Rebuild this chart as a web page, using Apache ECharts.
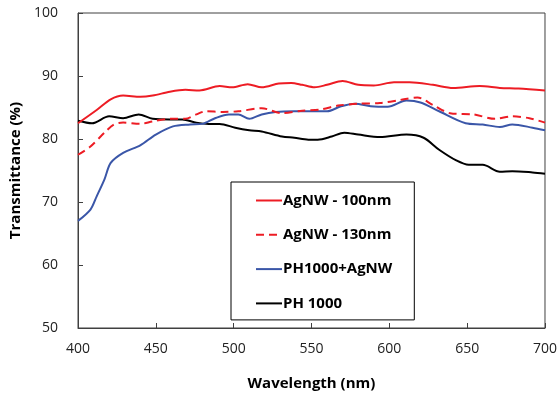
<!DOCTYPE html>
<html><head><meta charset="utf-8">
<script src="https://cdn.jsdelivr.net/npm/echarts@6/dist/echarts.min.js"></script>
<style>html,body{margin:0;padding:0;background:#fff}#c{width:560px;height:396px}</style>
</head><body><div id="c"></div>
<script>
var seriesNames = ["AgNW - 100nm", "AgNW - 130nm", "PH1000+AgNW", "PH 1000"];
var xTicks = [400, 450, 500, 550, 600, 650, 700];
var yTicks = [50, 60, 70, 80, 90, 100];

var agnw100 = [[400,82.5],[412,84.6],[421,86.3],[429,86.9],[440,86.7],[448,86.9],[459,87.5],[469,87.8],[478,87.7],[491,88.4],[499,88.2],[509,88.7],[518,88.2],[529,88.8],[537,88.9],[544,88.6],[552,88.2],[560,88.6],[570,89.2],[580,88.6],[590,88.5],[603,89.0],[613,89.0],[628,88.6],[641,88.1],[658,88.4],[671,88.1],[683,88.0],[700,87.7]];
var agnw130 = [[400,77.5],[408,78.8],[417,81.0],[423,82.3],[429,82.6],[440,82.4],[448,82.8],[459,83.2],[469,83.2],[476,83.9],[482,84.4],[493,84.3],[503,84.4],[518,84.9],[531,84.1],[544,84.5],[556,84.7],[567,85.3],[580,85.6],[594,85.7],[607,86.2],[618,86.6],[628,85.4],[639,84.1],[654,83.9],[668,83.2],[679,83.6],[690,83.3],[700,82.6]];
var ph1000agnw = [[400,67.0],[408,68.8],[412,70.9],[417,73.6],[421,76.2],[429,77.8],[440,79.0],[450,80.7],[461,82.0],[472,82.3],[480,82.4],[488,83.3],[497,83.9],[503,83.9],[510,83.2],[518,83.9],[527,84.3],[539,84.4],[548,84.4],[560,84.4],[569,85.2],[578,85.6],[588,85.2],[599,85.1],[611,86.1],[620,85.8],[632,84.4],[649,82.5],[660,82.3],[671,81.9],[679,82.3],[692,81.8],[700,81.4]];
var ph1000 = [[400,82.9],[409,82.5],[420,83.6],[429,83.3],[439,83.9],[448,83.2],[459,83.1],[467,83.1],[476,82.6],[484,82.4],[491,82.4],[501,81.8],[510,81.4],[518,81.2],[531,80.4],[539,80.2],[548,79.9],[554,79.9],[563,80.4],[571,81.0],[580,80.7],[594,80.3],[611,80.7],[622,80.2],[632,78.3],[643,76.6],[651,75.9],[660,75.9],[671,74.8],[679,74.9],[692,74.7],[700,74.5]];

var colors = ["#ED1C24", "#ED1C24", "#3A56A8", "#000000"];
var dataSets = [agnw100, agnw130, ph1000agnw, ph1000];
var types = ["solid", "dashed", "solid", "solid"];

var font = "'Open Sans', sans-serif";
var chart = echarts.init(document.getElementById('c'), null, {renderer: 'canvas'});
chart.setOption({
  animation: false,
  grid: {left: 74, top: 13, right: 13, bottom: 67, show: true, borderColor: '#404040', borderWidth: 1},
  xAxis: {
    type: 'value', min: xTicks[0], max: xTicks[xTicks.length-1], interval: 50,
    name: 'Wavelength (nm)', nameLocation: 'middle', nameGap: 48,
    nameTextStyle: {fontFamily: font, fontWeight: 'bold', fontSize: 15, color: '#000'},
    axisLine: {show: true, lineStyle: {color: '#404040', width: 1}},
    axisTick: {show: true, inside: true, length: 5, lineStyle: {color: '#404040'}},
    axisLabel: {fontFamily: font, fontSize: 14, color: '#222', margin: 14},
    splitLine: {show: false}
  },
  yAxis: {
    type: 'value', min: yTicks[0], max: yTicks[yTicks.length-1], interval: 10,
    name: 'Transmittance (%)', nameLocation: 'middle', nameGap: 55,
    nameTextStyle: {fontFamily: font, fontWeight: 'bold', fontSize: 15, color: '#000'},
    axisLine: {show: true, lineStyle: {color: '#404040', width: 1}},
    axisTick: {show: true, inside: true, length: 5, lineStyle: {color: '#404040'}},
    axisLabel: {fontFamily: font, fontSize: 14, color: '#222', margin: 20},
    splitLine: {show: false}
  },
  legend: {
    orient: 'vertical', left: 231, top: 182,
    padding: [11, 22, 9, 24], itemGap: 19.3, itemWidth: 26, itemHeight: 14,
    borderColor: '#000', borderWidth: 1, backgroundColor: '#fff',
    itemStyle: {color: 'rgba(0,0,0,0)', borderWidth: 0, opacity: 0},
    textStyle: {fontFamily: font, fontWeight: 'bold', fontSize: 15, color: '#000', padding: [0,0,0,-4]},
    data: seriesNames.map(function(n){return {name: n};})
  },
  series: seriesNames.map(function(n, i){
    return {
      name: n, type: 'line', data: dataSets[i], showSymbol: false, symbol: 'none',
      smooth: 0.3, z: 5 - i,
      lineStyle: {color: colors[i], width: 2, type: types[i] === 'dashed' ? [8, 5] : 'solid'},
      itemStyle: {color: colors[i]}
    };
  })
});
</script></body></html>
